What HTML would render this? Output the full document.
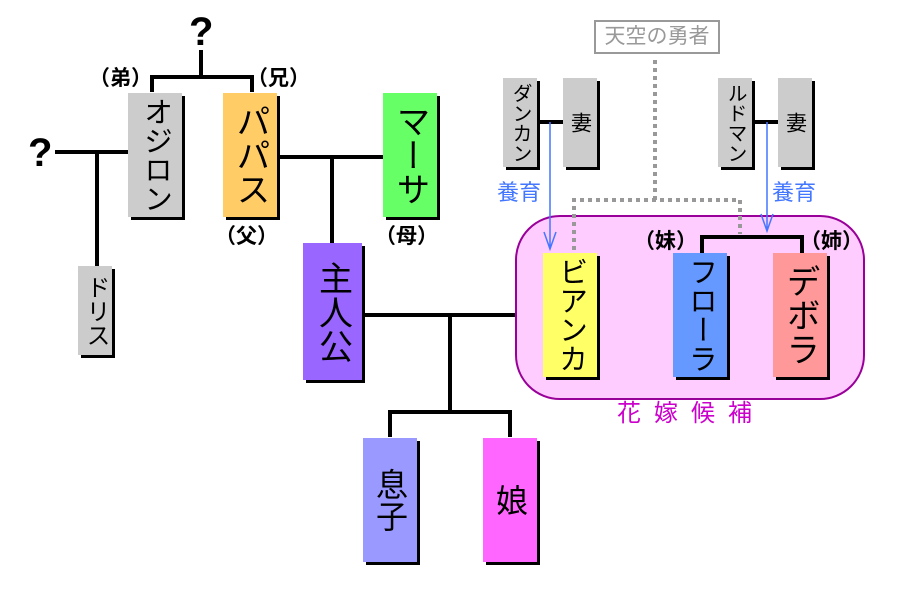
<!DOCTYPE html>
<html><head><meta charset="utf-8"><style>
body{margin:0;width:900px;height:600px;background:#fff;position:relative;overflow:hidden;font-family:"Liberation Sans","Noto Sans CJK JP",sans-serif;}
.b{position:absolute;box-shadow:3px 3px 0 #000;display:flex;align-items:center;justify-content:center;}
.v{writing-mode:vertical-rl;text-orientation:upright;line-height:1;color:#000;white-space:nowrap;}
.t{position:absolute;font-weight:bold;font-size:21px;line-height:1;white-space:nowrap;font-family:"Noto Sans CJK JP",sans-serif;}
svg{position:absolute;left:0;top:0;}
</style></head><body>
<div style="position:absolute;left:515px;top:215px;width:346px;height:181px;border:2px solid #990099;border-radius:45px;background:#ffccff;"></div>
<svg width="900" height="600">
<g stroke="#000" stroke-width="4" fill="none">
<path d="M201 50V77M152 92V77H252V92"/>
<path d="M55 152H128M97 152V266"/>
<path d="M277 157H383M332 157V243"/>
<path d="M362 315H515M450 315V412M390 437V412H510V437"/>
<path d="M537 122H563M752 122H778"/>
<path d="M702 253V237H802V253"/>
</g>
<g stroke="#999" stroke-width="4" stroke-dasharray="4 4" fill="none">
<path d="M655 60V200M574 250V200H740V234"/>
</g>
<g stroke="#4477ff" stroke-width="1.5" fill="none">
<path d="M550 122V249M544 232L550 249L556 232"/>
<path d="M767 122V231M761 214L767 231L773 214"/>
</g>
</svg>
<div class="t" style="left:189px;top:12px;font-size:40px;font-family:'Liberation Sans',sans-serif;">?</div>
<div class="t" style="left:28px;top:133px;font-size:40px;font-family:'Liberation Sans',sans-serif;">?</div>
<div class="t" style="left:89px;top:67px;">（弟）</div>
<div class="t" style="left:247px;top:67px;">（兄）</div>
<div class="t" style="left:215px;top:225px;">（父）</div>
<div class="t" style="left:375px;top:225px;">（母）</div>
<div class="t" style="left:634px;top:230px;">（妹）</div>
<div class="t" style="left:800px;top:230px;">（姉）</div>
<div class="b" style="left:128px;top:93px;width:54px;height:124px;background:#ccc;"><span class="v" style="font-size:29px;">オジロン</span></div>
<div class="b" style="left:223px;top:93px;width:54px;height:124px;background:#ffcc66;"><span class="v" style="font-size:34px;">パパス</span></div>
<div class="b" style="left:383px;top:93px;width:54px;height:124px;background:#66ff66;"><span class="v" style="font-size:34px;">マーサ</span></div>
<div class="b" style="left:78px;top:266px;width:34px;height:89px;background:#ccc;"><span class="v" style="font-size:24px;">ドリス</span></div>
<div class="b" style="left:303px;top:243px;width:59px;height:137px;background:#9966ff;"><span class="v" style="font-size:34px;">主人公</span></div>
<div class="b" style="left:363px;top:438px;width:54px;height:124px;background:#9999ff;"><span class="v" style="font-size:32px;">息子</span></div>
<div class="b" style="left:483px;top:438px;width:54px;height:124px;background:#ff66ff;"><span class="v" style="font-size:32px;">娘</span></div>
<div class="b" style="left:503px;top:78px;width:34px;height:89px;background:#ccc;"><span class="v" style="font-size:20px;">ダンカン</span></div>
<div class="b" style="left:563px;top:78px;width:34px;height:89px;background:#ccc;"><span class="v" style="font-size:21px;">妻</span></div>
<div class="b" style="left:718px;top:78px;width:34px;height:89px;background:#ccc;"><span class="v" style="font-size:20px;">ルドマン</span></div>
<div class="b" style="left:778px;top:78px;width:34px;height:89px;background:#ccc;"><span class="v" style="font-size:21px;">妻</span></div>
<div class="b" style="left:543px;top:253px;width:54px;height:124px;background:#ffff66;"><span class="v" style="font-size:29px;">ビアンカ</span></div>
<div class="b" style="left:673px;top:253px;width:54px;height:124px;background:#6699ff;"><span class="v" style="font-size:29px;">フローラ</span></div>
<div class="b" style="left:773px;top:253px;width:54px;height:124px;background:#ff9999;"><span class="v" style="font-size:34px;">デボラ</span></div>
<div style="position:absolute;left:594px;top:20px;width:122px;height:30px;border:2px solid #999;color:#999;font-size:21px;line-height:30px;text-align:center;">天空の勇者</div>
<div style="position:absolute;left:497px;top:182px;color:#4477ff;font-size:22px;line-height:1;">養育</div>
<div style="position:absolute;left:772px;top:182px;color:#4477ff;font-size:22px;line-height:1;">養育</div>
<div style="position:absolute;left:617px;top:402px;color:#cc00cc;font-size:24px;line-height:1;letter-spacing:13px;">花嫁候補</div>
</body></html>
